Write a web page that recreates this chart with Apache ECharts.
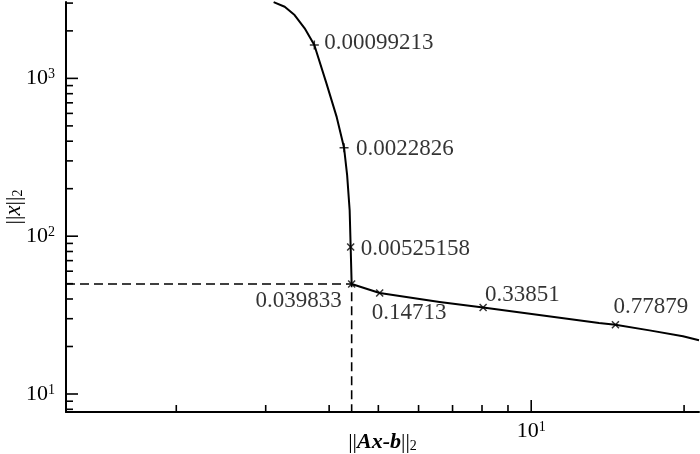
<!DOCTYPE html>
<html>
<head>
<meta charset="utf-8">
<script src="https://cdn.jsdelivr.net/npm/echarts@6/dist/echarts.min.js"></script>
<style>
  html, body { margin: 0; padding: 0; background: #fff; }
  #chart { width: 700px; height: 454px; }
</style>
</head>
<body>
<div id="chart"></div>
<script>
// L-curve: residual norm ||Ax-b||2 against solution norm ||x||2
const residualNorm = [3.11, 3.27, 3.42, 3.58, 3.74, 3.95, 4.14, 4.28, 4.34, 4.39, 4.41, 4.43, 5.03, 6.60, 8.04, 13.6, 14.65, 17.1, 19.9, 21.4]
const solutionNorm = [3040, 2844, 2520, 2075, 1626, 933, 568, 363, 244, 146, 85.5, 49.8, 43.7, 38.3, 35.3, 28.2, 27.5, 25.3, 23.2, 21.9]

// points marked with their regularization parameter
const lambdaLabels = ['0.00099213', '0.0022826', '0.00525158', '0.039833', '0.14713', '0.33851', '0.77879']
const lambdaResidual = [3.74, 4.28, 4.41, 4.43, 5.03, 8.04, 14.65]
const lambdaSolution = [1626, 363, 85.5, 49.8, 43.7, 35.3, 27.5]

// corner of the L
const cornerResidual = 4.43
const cornerSolution = 49.8

const xRange = [1.213, 21.4]
const yRange = [7.69, 3048]
const xTickValues = [2, 3, 4, 5, 6, 7, 8, 9, 10, 20]
const yTickValues = [8, 9, 10, 20, 30, 40, 50, 60, 70, 80, 90, 100, 200, 300, 400, 500, 600, 700, 800, 900, 1000, 2000, 3000]

const FONT = 'Liberation Serif'

// marker shape and label placement for each labelled point
const markerShape = ['plus', 'plus', 'cross', 'cross', 'cross', 'cross', 'cross']
const labelPlace = [
  { align: 'left', dx: 10, dy: -2 },
  { align: 'left', dx: 12, dy: 1 },
  { align: 'left', dx: 10, dy: 2 },
  { align: 'right', dx: -10, dy: 17 },
  { align: 'left', dx: -8, dy: 20 },
  { align: 'left', dx: 2, dy: -13 },
  { align: 'left', dx: -2, dy: -18 }
]
const SYMBOLS = {
  plus: 'path://M0,5L10,5M5,0L5,10',
  cross: 'path://M0,0L10,10M10,0L0,10'
}

const isPow10 = (v) => {
  const lg = Math.log10(v)
  return Math.abs(lg - Math.round(lg)) < 1e-6
}

const powLabel = (v) => {
  if (!isPow10(v)) return ''
  return '{b|10}{s|' + Math.round(Math.log10(v)) + '}'
}

const tickRich = {
  b: { fontFamily: FONT, fontSize: 22, color: '#000', lineHeight: 22, verticalAlign: 'bottom' },
  s: { fontFamily: FONT, fontSize: 14, color: '#000', lineHeight: 14, verticalAlign: 'top' }
}

const nameRich = {
  n: { fontFamily: FONT, fontSize: 22, color: '#000', lineHeight: 22, verticalAlign: 'bottom' },
  i: { fontFamily: FONT, fontSize: 23, color: '#000', fontStyle: 'italic', lineHeight: 22, verticalAlign: 'bottom' },
  bi: { fontFamily: FONT, fontSize: 22, color: '#000', fontStyle: 'italic', fontWeight: 'bold', lineHeight: 22, verticalAlign: 'bottom' },
  sub: { fontFamily: FONT, fontSize: 14, color: '#000', lineHeight: 14, verticalAlign: 'bottom' }
}

const curveData = residualNorm.map((x, i) => [x, solutionNorm[i]])

const markerData = lambdaLabels.map((name, i) => ({
  name: name,
  value: [lambdaResidual[i], lambdaSolution[i]],
  symbol: SYMBOLS[markerShape[i]],
  symbolSize: markerShape[i] === 'plus' ? 9 : 7,
  label: {
    align: labelPlace[i].align,
    offset: [labelPlace[i].dx, labelPlace[i].dy]
  }
}))

const cornerData = [
  [xRange[0], cornerSolution],
  [cornerResidual, cornerSolution],
  [cornerResidual, yRange[0]]
]

// x ticks sit on the bottom axis, y ticks on the left axis
const tickData = xTickValues.map(v => [v, yRange[0], 0])
  .concat(yTickValues.map(v => [xRange[0], v, 1]))

const renderTick = (params, api) => {
  const a = api.value(0)
  const b = api.value(1)
  const dir = api.value(2)
  const p = api.coord([a, b])
  const len = isPow10(dir === 0 ? a : b) ? 12 : 7
  const shape = dir === 0
    ? { x1: p[0], y1: p[1], x2: p[0], y2: p[1] - len }
    : { x1: p[0], y1: p[1], x2: p[0] + len, y2: p[1] }
  return { type: 'line', shape: shape, style: { stroke: '#000', lineWidth: 1.6 } }
}

const myChart = echarts.init(document.getElementById('chart'), null, { renderer: 'canvas' })

const option = {
  backgroundColor: '#fff',
  animation: false,
  grid: {
    left: 66,
    right: 1,
    top: 2,
    bottom: 42,
    containLabel: false,
    outerBoundsMode: 'none'
  },
  xAxis: {
    type: 'log',
    logBase: 10,
    min: xRange[0],
    max: xRange[1],
    name: '{n|||}{bi|Ax-b}{n|||}{sub|2}',
    nameLocation: 'middle',
    nameGap: 19,
    nameMoveOverlap: false,
    nameTextStyle: { rich: nameRich },
    axisLine: { show: true, lineStyle: { color: '#000', width: 2 } },
    axisTick: { show: false },
    splitLine: { show: false },
    minorTick: { show: false },
    axisLabel: {
      margin: 8,
      showMinLabel: false,
      showMaxLabel: false,
      formatter: powLabel,
      rich: tickRich
    }
  },
  yAxis: {
    type: 'log',
    logBase: 10,
    min: yRange[0],
    max: yRange[1],
    name: '{n|||}{i|x}{n|||}{sub|2}',
    nameLocation: 'middle',
    nameRotate: 90,
    nameGap: 41,
    nameMoveOverlap: false,
    nameTextStyle: { rich: nameRich },
    axisLine: { show: true, lineStyle: { color: '#000', width: 2 } },
    axisTick: { show: false },
    splitLine: { show: false },
    minorTick: { show: false },
    axisLabel: {
      margin: 11,
      showMinLabel: false,
      showMaxLabel: false,
      formatter: powLabel,
      rich: tickRich
    }
  },
  series: [
    {
      name: 'corner',
      type: 'line',
      data: cornerData,
      symbol: 'none',
      silent: true,
      lineStyle: { color: '#000', width: 1.6, type: [9, 5] },
      z: 2
    },
    {
      name: 'L-curve',
      type: 'line',
      data: curveData,
      symbol: 'none',
      smooth: false,
      clip: true,
      lineStyle: { color: '#000', width: 2, join: 'round' },
      z: 3
    },
    {
      name: 'lambda',
      type: 'scatter',
      data: markerData,
      itemStyle: { color: 'transparent', borderColor: '#000', borderWidth: 1.5 },
      label: {
        show: true,
        position: 'inside',
        verticalAlign: 'middle',
        formatter: '{b}',
        fontFamily: FONT,
        fontSize: 23,
        color: '#000'
      },
      z: 4
    },
    {
      name: 'ticks',
      type: 'custom',
      data: tickData,
      renderItem: renderTick,
      silent: true,
      z: 5
    }
  ]
}

option && myChart.setOption(option)
</script>
</body>
</html>
